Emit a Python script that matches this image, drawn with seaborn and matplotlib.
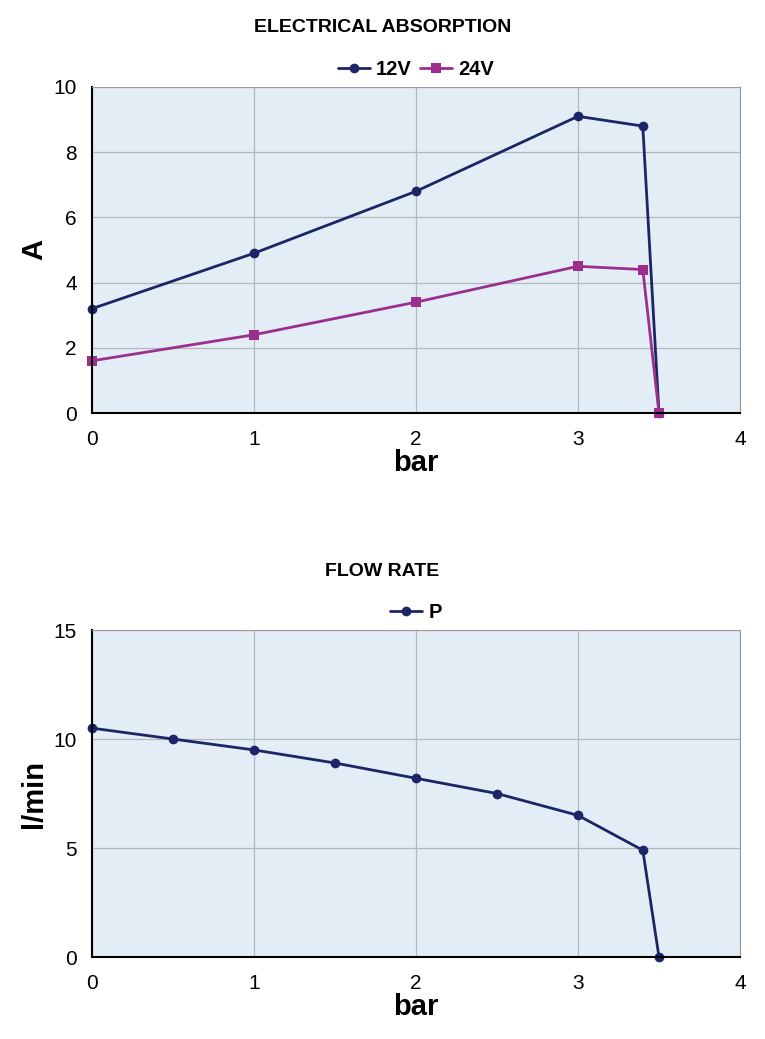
import pandas as pd
import matplotlib
matplotlib.use('Agg')
import matplotlib.pyplot as plt
import seaborn as sns

# pressure (bar) vs absorbed current (A)
bar_abs = [0, 1, 2, 3, 3.4, 3.5]
amps_12v = [3.2, 4.9, 6.8, 9.1, 8.8, 0]
amps_24v = [1.6, 2.4, 3.4, 4.5, 4.4, 0]

# pressure (bar) vs flow rate (l/min)
bar_flow = [0, 0.5, 1, 1.5, 2, 2.5, 3, 3.4, 3.5]
flow_p = [10.5, 10.0, 9.5, 8.9, 8.2, 7.5, 6.5, 4.9, 0]

navy = '#1c2566'
magenta = '#9c2f8e'
bg = '#e2edf5'

sns.set_style('white')
plt.rcParams['font.family'] = ['Liberation Sans', 'DejaVu Sans']
plt.rcParams['text.color'] = 'black'
plt.rcParams['axes.labelcolor'] = 'black'
plt.rcParams['xtick.color'] = 'black'
plt.rcParams['ytick.color'] = 'black'

fig = plt.figure(figsize=(7.65, 10.39), dpi=100)
ax1 = fig.add_axes([0.1203, 0.6025, 0.847, 0.3138])
ax2 = fig.add_axes([0.1203, 0.0789, 0.847, 0.3147])

abs_df = pd.DataFrame({'bar': bar_abs * 2,
                       'A': amps_12v + amps_24v,
                       'series': ['12V'] * len(bar_abs) + ['24V'] * len(bar_abs)})
flow_df = pd.DataFrame({'bar': bar_flow, 'lmin': flow_p, 'series': 'P'})

sns.lineplot(ax=ax1, data=abs_df, x='bar', y='A', hue='series', style='series',
             palette={'12V': navy, '24V': magenta}, markers={'12V': 'o', '24V': 's'},
             dashes=False, linewidth=2, markersize=7, markeredgewidth=0, sort=False)
sns.lineplot(ax=ax2, data=flow_df, x='bar', y='lmin', hue='series', marker='o',
             palette={'P': navy}, linewidth=2, markersize=7, markeredgewidth=0, sort=False)

for ax, ymax, ystep, ylab in [(ax1, 10, 2, 'A'), (ax2, 15, 5, 'l/min')]:
    ax.set_facecolor(bg)
    ax.set_xlim(0, 4)
    ax.set_ylim(0, ymax)
    ax.set_xticks(range(0, 5))
    ax.set_yticks(range(0, ymax + 1, ystep))
    ax.grid(True, color='#b5b9bc', linewidth=0.9)
    ax.set_axisbelow(True)
    for side in ['top', 'right']:
        ax.spines[side].set_color('#9a9a9a')
        ax.spines[side].set_linewidth(0.8)
    for side in ['left', 'bottom']:
        ax.spines[side].set_color('black')
        ax.spines[side].set_linewidth(1.5)
    ax.tick_params(axis='both', labelsize=15, length=4, color='#777777', direction='out')
    ax.tick_params(axis='y', pad=7)
    ax.tick_params(axis='x', pad=8)
    ax.set_xlabel('bar', fontsize=21, fontweight='bold', labelpad=0)
    ax.set_ylabel(ylab, fontsize=21, fontweight='bold', labelpad=4)
    for t in ax.get_xticklabels() + ax.get_yticklabels():
        t.set_clip_on(False)
    for ln in ax.lines:
        ln.set_clip_on(False)

leg1 = ax1.legend(loc='lower center', bbox_to_anchor=(0.5, 1.0), ncol=2, frameon=False,
                  prop={'size': 14.5, 'weight': 'bold'}, handlelength=1.6, handletextpad=0.3,
                  columnspacing=0.4, borderaxespad=0.0)
leg2 = ax2.legend(loc='lower center', bbox_to_anchor=(0.5, 1.0), ncol=1, frameon=False,
                  prop={'size': 14.5, 'weight': 'bold'}, handlelength=1.6, handletextpad=0.3,
                  borderaxespad=0.0)

fig.text(0.5, 1 - 27 / 1039, 'ELECTRICAL ABSORPTION', ha='center', va='center',
         fontsize=14, fontweight='bold')
fig.text(0.5, 1 - 571 / 1039, 'FLOW RATE', ha='center', va='center',
         fontsize=14, fontweight='bold')

fig.savefig('out.png', dpi=100)
